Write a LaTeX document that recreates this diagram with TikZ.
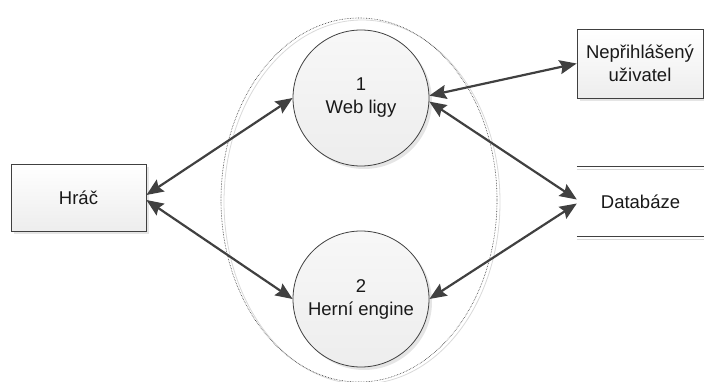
\documentclass[tikz,border=0pt]{standalone}
\usepackage{fontspec}
\setmainfont{Liberation Sans}
\usetikzlibrary{arrows.meta,shadows}

\definecolor{linegray}{HTML}{404040}
\definecolor{fillgray}{HTML}{EDEDED}

\tikzset{
  lbl/.style={font=\fontsize{18.5}{23}\selectfont, align=center, text=black!90},
  entity/.style={lbl, draw=black!75, line width=0.8pt, inner sep=0pt,
    top color=white, bottom color=fillgray,
    drop shadow={shadow xshift=3pt, shadow yshift=-3pt, opacity=0.25, fill=black!40}},
  process/.style={lbl, circle, draw=black!75, line width=0.8pt, inner sep=0pt,
    minimum size=136pt, top color=white!97!black, bottom color=fillgray,
    drop shadow={shadow xshift=3pt, shadow yshift=-3pt, opacity=0.25, fill=black!40}},
  store/.style={lbl, inner sep=0pt},
  flow/.style={draw=linegray, line width=2.2pt,
    {Stealth[length=17pt,width=14pt,inset=2.5pt]}-{Stealth[length=17pt,width=14pt,inset=2.5pt]}},
}

\begin{document}
\begin{tikzpicture}[x=1pt, y=-1pt]
  \useasboundingbox (0,0) rectangle (704,382);

  % system boundary
  \draw[black!15, line width=0.8pt] (362,202) ellipse [x radius=138, y radius=182];
  \draw[black!80, line width=0.6pt, densely dotted] (359,200) ellipse [x radius=138, y radius=182];

  % processes
  \node[process] (web) at (361,98) {1\\Web ligy};
  \node[process] (engine) at (361,299) {2\\Herní engine};

  % external entities
  \node[entity, minimum width=135pt, minimum height=67pt] (hrac) at (78.5,197.5) {Hráč};
  \node[entity, minimum width=126pt, minimum height=69pt] (nep) at (640,63.5) {Nepřihlášený\\uživatel};

  % data store
  \node[store, minimum width=127pt, minimum height=69pt] (db) at (640.5,201.5) {Databáze};
  \draw[black!15, line width=0.8pt] ([yshift=-3pt]db.north west) -- ([yshift=-3pt]db.north east);
  \draw[black!15, line width=0.8pt] ([yshift=-3pt]db.south west) -- ([yshift=-3pt]db.south east);
  \draw[black!75, line width=0.8pt] (db.north west) -- (db.north east);
  \draw[black!75, line width=0.8pt] (db.south west) -- (db.south east);

  % data flows
  \draw[flow] ([yshift=2.5pt]hrac.east) -- (web.west);
  \draw[flow] ([yshift=-2.5pt]hrac.east) -- (engine.west);
  \draw[flow] (web.2) -- (nep.west);
  \draw[flow] (web.-3) -- ([yshift=2pt]db.west);
  \draw[flow] (engine.east) -- ([yshift=-2pt]db.west);
\end{tikzpicture}
\end{document}
